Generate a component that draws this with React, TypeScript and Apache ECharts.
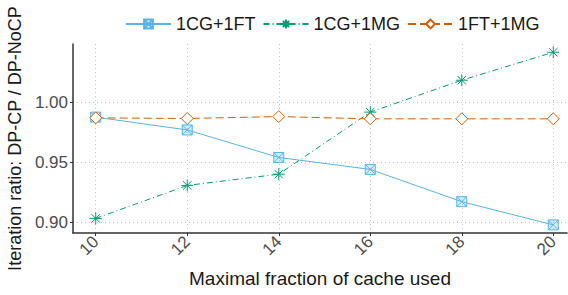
import React, { useEffect, useRef } from "react";
import * as echarts from "echarts";

const xValues = [10, 12, 14, 16, 18, 20];
const xTicks = [10, 12, 14, 16, 18, 20];
const yTicks = [0.9, 0.95, 1.0];
const seriesNames = ["1CG+1FT", "1CG+1MG", "1FT+1MG"];
const cgft = [0.9877, 0.977, 0.954, 0.944, 0.917, 0.8976];
const cgmg = [0.903, 0.9306, 0.940, 0.9919, 1.0186, 1.042];
const ftmg = [0.9871, 0.9866, 0.9882, 0.9863, 0.9863, 0.9863];

const FONT = "Liberation Sans";
const BLUE = "#56B4E9";
const GREEN = "#009E73";
const ORANGE = "#D55E00";

const boxX = "path://M-5,-5L5,-5L5,5L-5,5ZM-5,-5L5,5M-5,5L5,-5";
const star = "path://M0,-6L0,6M-6,0L6,0M-4.2,-4.2L4.2,4.2M-4.2,4.2L4.2,-4.2";
const diamond = "path://M0,-6L6,0L0,6L-6,0Z";

export default function App() {
  const ref = useRef<HTMLDivElement>(null);
  useEffect(() => {
    const chart = echarts.init(ref.current!, null, { renderer: "svg" });
    const pair = (vals: number[]) => xValues.map((x, i) => [x, vals[i]]);
    chart.setOption({
      animation: false,
      textStyle: { fontFamily: FONT },
      legend: {
        top: 10,
        left: 120,
        itemWidth: 45,
        itemHeight: 11,
        itemGap: 7,
        textStyle: { fontFamily: FONT, fontSize: 18, color: "#1a1a1a" },
        data: seriesNames,
      },
      grid: { left: 73, right: 1, top: 44, bottom: 62, outerBoundsMode: "none" },
      xAxis: {
        type: "value",
        min: 9.503,
        max: 20.3,
        name: "Maximal fraction of cache used",
        nameLocation: "middle",
        nameGap: 36,
        nameTextStyle: { fontFamily: FONT, fontSize: 19, color: "#1a1a1a" },
        axisLine: { show: true, lineStyle: { color: "#333", width: 1.5 } },
        axisTick: { show: true, length: 3, customValues: xTicks, lineStyle: { color: "#333" } },
        axisLabel: {
          customValues: xTicks,
          rotate: 45,
          margin: 6,
          fontFamily: FONT,
          fontSize: 17,
          color: "#4d4d4d",
        },
        splitLine: { show: true, lineStyle: { color: "#c4c4c4", type: [1, 3], width: 1 } },
      },
      yAxis: {
        type: "value",
        min: 0.8908,
        max: 1.0489,
        name: "Iteration ratio: DP-CP / DP-NoCP",
        nameLocation: "middle",
        nameGap: 45,
        nameTextStyle: { fontFamily: FONT, fontSize: 18, color: "#1a1a1a" },
        axisLine: { show: true, lineStyle: { color: "#333", width: 1.5 } },
        axisTick: { show: true, length: 3, customValues: yTicks, lineStyle: { color: "#333" } },
        axisLabel: {
          customValues: yTicks,
          margin: 5,
          fontFamily: FONT,
          fontSize: 17,
          color: "#4d4d4d",
          formatter: (v: number) => v.toFixed(2),
        },
        splitLine: { show: true, lineStyle: { color: "#c4c4c4", type: [1, 3], width: 1 } },
      },
      series: [
        {
          name: seriesNames[0],
          type: "line",
          data: pair(cgft),
          symbol: boxX,
          symbolSize: 10,
          lineStyle: { color: BLUE, width: 1 },
          itemStyle: { color: "rgba(86,180,233,0.25)", borderColor: BLUE, borderWidth: 1 },
        },
        {
          name: seriesNames[1],
          type: "line",
          data: pair(cgmg),
          symbol: star,
          symbolSize: 12,
          lineStyle: { color: GREEN, width: 1, type: [6, 3, 1, 3] },
          itemStyle: { color: GREEN, borderColor: GREEN, borderWidth: 1 },
        },
        {
          name: seriesNames[2],
          type: "line",
          data: pair(ftmg),
          symbol: diamond,
          symbolSize: 12,
          lineStyle: { color: ORANGE, width: 1, type: [8, 4] },
          itemStyle: { color: "#fff", borderColor: ORANGE, borderWidth: 1 },
        },
      ],
    });
    return () => chart.dispose();
  }, []);
  return <div ref={ref} style={{ width: 568, height: 295, position: "absolute", left: 0, top: 0 }} />;
}
